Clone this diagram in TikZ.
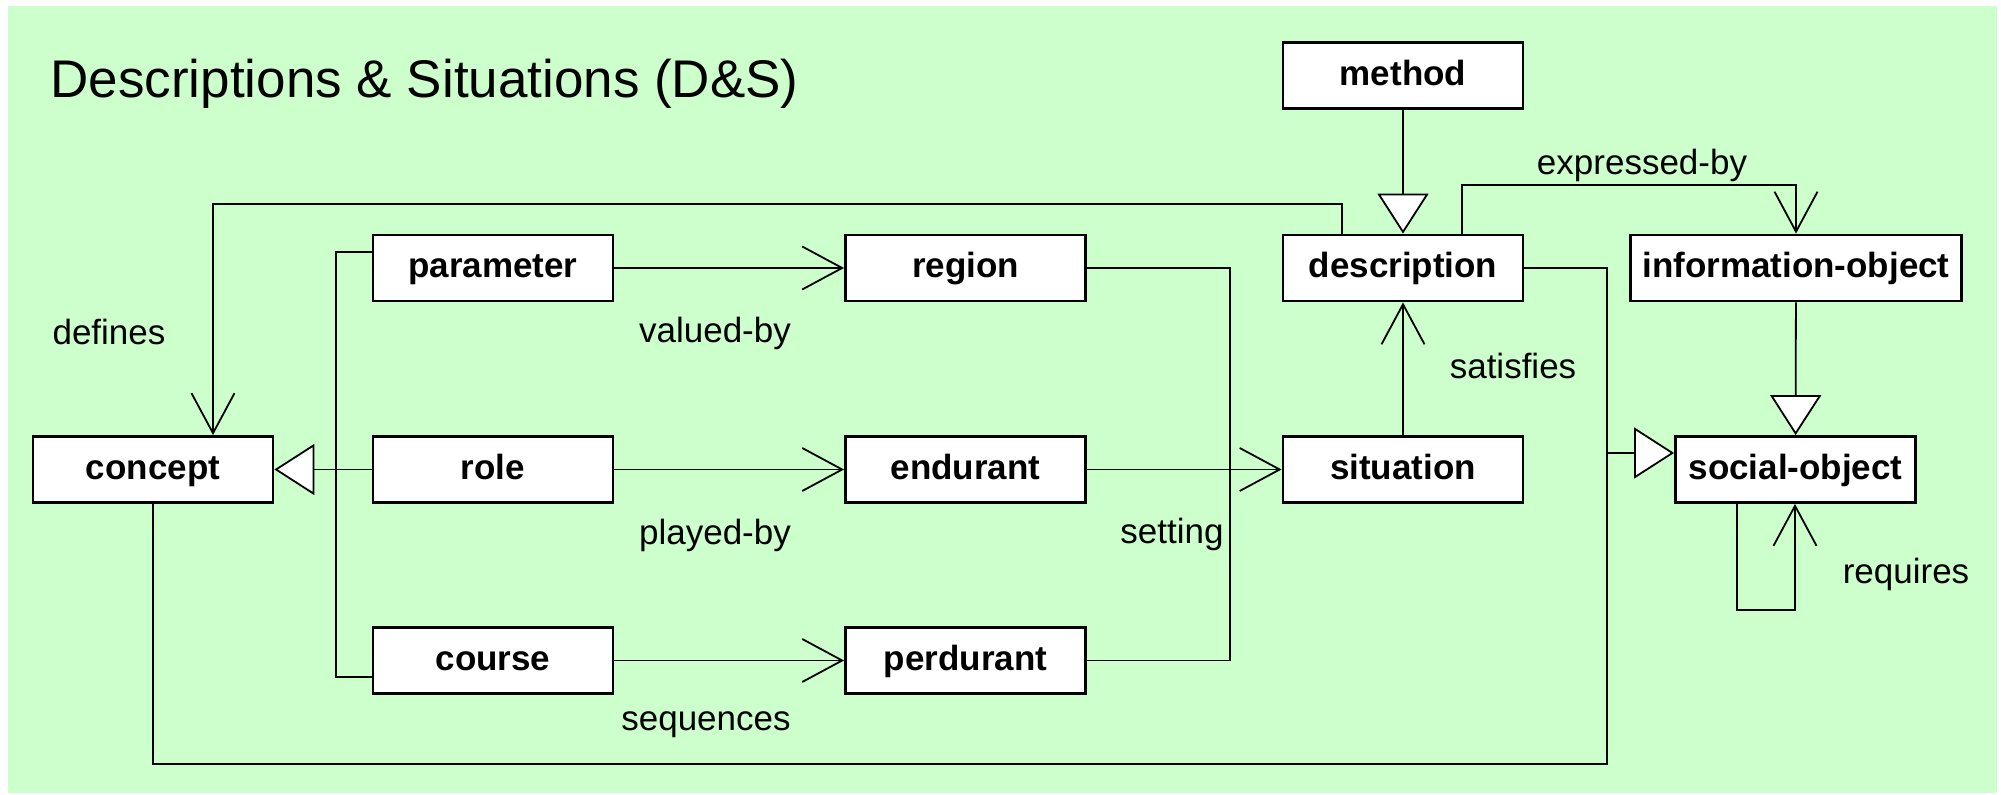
\documentclass[tikz,border=0pt]{standalone}
\usepackage{fontspec}
\setmainfont{Liberation Sans}
\usetikzlibrary{arrows.meta}
\definecolor{dsgreen}{RGB}{204,255,204}

\begin{document}
\begin{tikzpicture}[x=0.5pt,y=-0.5pt,line width=0.9pt,
    box/.style={rectangle, draw=black, fill=white, line width=1.4pt,
      minimum width=120pt, minimum height=33pt, inner xsep=6pt,
      text height=12.6pt, text depth=2.6pt,
      font=\fontsize{17.5}{21}\selectfont\bfseries},
    lbl/.style={font=\fontsize{17.5}{21}\selectfont},
    barb/.style={-{Straight Barb[length=20pt,width=21.5pt]}},
    gen/.style={-{Triangle[length=20pt,width=25.5pt,fill=white]}}]
      \useasboundingbox (0,0) rectangle (2001,795);
      \fill[dsgreen] (8,6) rectangle (1997,793);
      \node[anchor=base west, font=\fontsize{26.5}{32}\selectfont](title) at (43,98){Descriptions \& Situations (D\&S)};

      \node[box](method)  at (1403,  75.5){method};
      \node[box](desc)    at (1403, 268.0){description};
      \node[box](infobj)  at (1796, 268.0){information-object};
      \node[box](param)   at ( 493, 268.0){parameter};
      \node[box](region)  at ( 965.5, 268.0){region};
      \node[box](concept) at ( 153, 469.5){concept};
      \node[box](role)    at ( 493, 469.5){role};
      \node[box](endur)   at ( 965.5, 469.5){endurant};
      \node[box](sit)     at (1403, 469.5){situation};
      \node[box](socobj)  at (1795.5, 469.5){social-object};
      \node[box](course)  at ( 493, 660.5){course};
      \node[box](perdur)  at ( 965.5, 660.5){perdurant};

      \coordinate (defA) at (1342,204);
      \coordinate (defB) at ( 213,204);
      \coordinate (expA) at (1462,185);
      \coordinate (expB) at (1796,185);
      \coordinate (brA)  at ( 336,252);
      \coordinate (brB)  at ( 336,677);
      \coordinate (setB) at (1230,660.5);
      \coordinate (socA) at (1607,764);
      \coordinate (socB) at (1607,453);
      \coordinate (reqA) at (1737,610);
      \coordinate (reqB) at (1795,610);

      \draw[barb] (param) -- (region);
      \draw[barb] (role) -- (endur);
      \draw[barb] (course) -- (perdur);
      \draw (region.east) -| (setB) -- (perdur.east);
      \draw[barb] (endur) -- (sit);
      \draw[barb] (sit) -- (desc);
      \draw[gen] (method) -- (desc);
      \draw[gen] (infobj) -- (socobj);
      \draw[barb] (expA |- desc.north) -- (expA) -- (expB) -- (infobj.north);
      \draw[barb] (defA |- desc.north) -- (defA) -- (defB) -- (defB |- concept.north);
      \draw (brA -| param.west) -- (brA) -- (brB) -- (brB -| course.west);
      \draw[gen] (role) -- (concept);
      \draw (desc.east) -| (socA) -| (concept.south);
      \draw[gen] (socB) -- (socB -| socobj.west);
      \draw[barb] (reqA |- socobj.south) -- (reqA) -- (reqB) -- (reqB |- socobj.south);

      \node[lbl](defines)   at ( 109, 332){defines};
      \node[lbl](valuedby)  at ( 715, 333.5){valued-by};
      \node[lbl](playedby)  at ( 715, 535){played-by};
      \node[lbl](sequences) at ( 706, 725){sequences};
      \node[lbl](setting)   at (1172, 534){setting};
      \node[lbl](satisfies) at (1513, 366){satisfies};
      \node[lbl](expressed) at (1642, 165){expressed-by};
      \node[lbl](requires)  at (1906, 574){requires};
    \end{tikzpicture}
\end{document}
